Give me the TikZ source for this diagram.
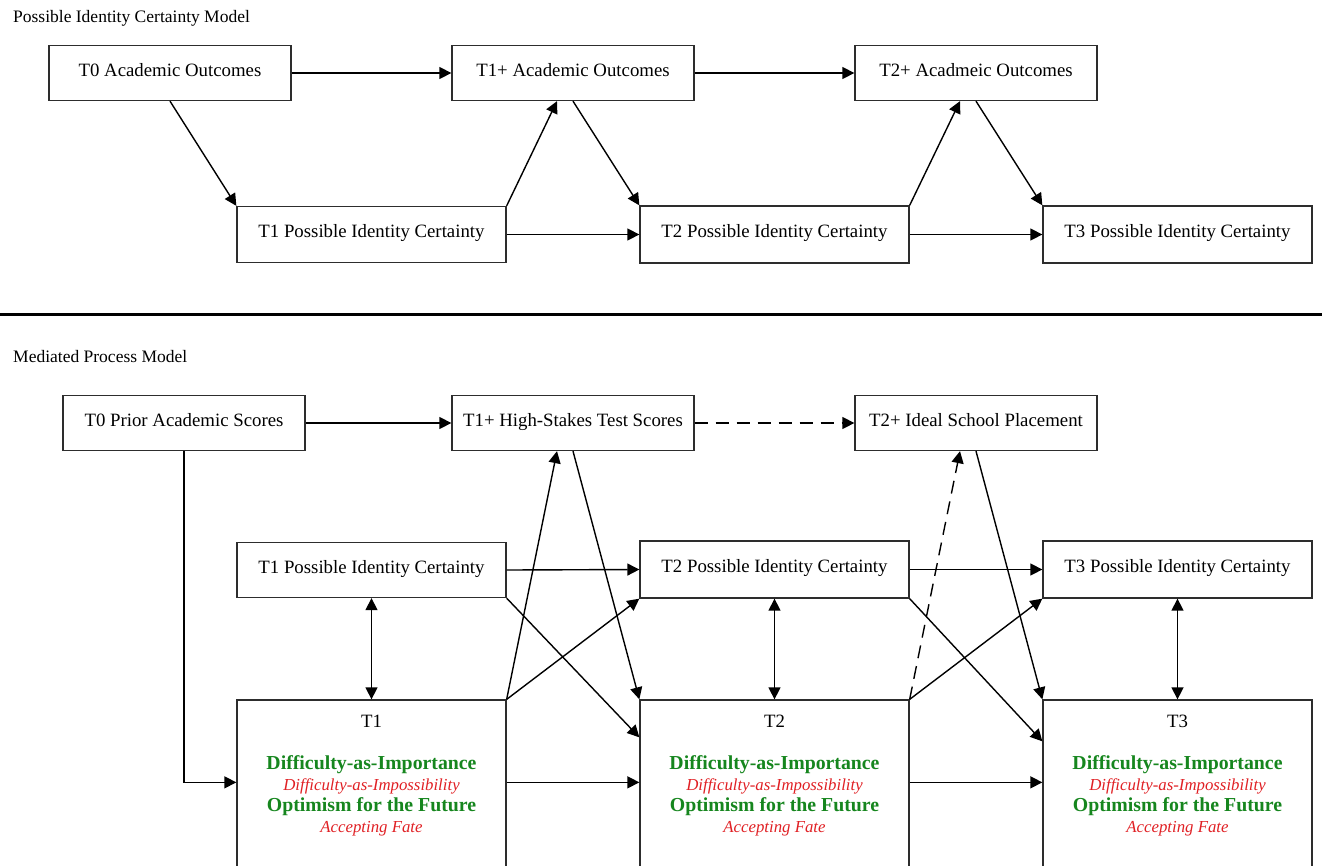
\documentclass[tikz,border=0pt]{standalone}
\usepackage{fontspec}
\setmainfont{Liberation Serif}
\usetikzlibrary{arrows.meta,calc}
\definecolor{boxgray}{RGB}{45,45,45}
\definecolor{dgreen}{RGB}{22,134,30}
\definecolor{dred}{RGB}{224,32,36}
\begin{document}
\begin{tikzpicture}[x=1pt,y=-1pt,
  box/.style={draw=boxgray,line width=1.3pt,inner sep=0pt,minimum height=55pt,
    text height=12pt,text depth=6pt,
    font=\fontsize{18.8}{22}\selectfont},
  wide/.style={box,minimum width=242pt},
  pic/.style={box,minimum width=269pt},
  big/.style={draw=boxgray,line width=1.3pt,inner sep=0pt,minimum width=269pt,minimum height=200pt},
  arr/.style={line width=1.4pt,-{Triangle[length=12pt,width=12pt]}},
  darr/.style={line width=1.4pt,{Triangle[length=12pt,width=12pt]}-{Triangle[length=12pt,width=12pt]}},
  dsh/.style={dash pattern=on 13pt off 8pt},
  ttl/.style={anchor=base west,inner sep=0pt,font=\fontsize{17.5}{20}\selectfont},
  gline/.style={text=dgreen,font=\fontsize{19.8}{22}\selectfont\bfseries},
  rline/.style={text=dred,font=\fontsize{16.8}{20}\selectfont\itshape}
]
\useasboundingbox (0,0) rectangle (1322,865);
\clip (0,0) rectangle (1322,865);

% ---------- top model ----------
\node[ttl] (t1) at (13,22) {Possible Identity Certainty Model};
\node[wide] (a0) at (170,73) {T0 Academic Outcomes};
\node[wide] (a1) at (573,73) {T1+ Academic Outcomes};
\node[wide] (a2) at (976,73) {T2+ Acadmeic Outcomes};
\node[pic,minimum height=56pt] (p1) at (371.5,234.5) {T1 Possible Identity Certainty};
\node[pic,minimum height=57pt] (p2) at (774.5,234.5) {T2 Possible Identity Certainty};
\node[pic,minimum height=57pt] (p3) at (1177.5,234.5) {T3 Possible Identity Certainty};

\draw[arr] (a0.east) -- (a1.west);
\draw[arr] (a1.east) -- (a2.west);
\draw[arr] (a0.south) -- (p1.north west);
\draw[arr] (p1.north east) -- ([xshift=-16pt]a1.south);
\draw[arr] (a1.south) -- (p2.north west);
\draw[arr] (p2.north east) -- ([xshift=-16pt]a2.south);
\draw[arr] (a2.south) -- (p3.north west);
\draw[arr] (p1.east) -- (p2.west);
\draw[arr] (p2.east) -- (p3.west);

% separator
\draw[line width=3pt] (0,314) -- (1322,314);

% ---------- bottom model ----------
\node[ttl] (t2) at (13,362) {Mediated Process Model};
\node[wide] (b0) at (184,423) {T0 Prior Academic Scores};
\node[wide] (b1) at (573,423) {T1+ High-Stakes Test Scores};
\node[wide] (b2) at (976,423) {T2+ Ideal School Placement};
\node[pic] (q1) at (371.5,570) {T1 Possible Identity Certainty};
\node[pic,minimum height=57pt] (q2) at (774.5,569.5) {T2 Possible Identity Certainty};
\node[pic,minimum height=57pt] (q3) at (1177.5,569.5) {T3 Possible Identity Certainty};
\node[big] (m1) at (371.5,800) {};
\node[big] (m2) at (774.5,800) {};
\node[big] (m3) at (1177.5,800) {};

\foreach \m/\t in {m1/T1,m2/T2,m3/T3}{
  \node[font=\fontsize{18.8}{22}\selectfont,inner sep=0pt] (\m h) at ($(\m.north)+(0,22)$) {\t};
  \node[gline,inner sep=0pt] (\m a) at ($(\m.north)+(0,65)$) {Difficulty-as-Importance};
  \node[rline,inner sep=0pt] (\m b) at ($(\m.north)+(0,87)$) {Difficulty-as-Impossibility};
  \node[gline,inner sep=0pt] (\m c) at ($(\m.north)+(0,107)$) {Optimism for the Future};
  \node[rline,inner sep=0pt] (\m d) at ($(\m.north)+(0,129)$) {Accepting Fate};
}

\coordinate (m1in) at ($(m1.north west)+(0,83)$);
\coordinate (m1out) at ($(m1.north east)+(0,83)$);
\coordinate (m2in) at ($(m2.north west)+(0,83)$);
\coordinate (m2out) at ($(m2.north east)+(0,83)$);
\coordinate (m3in) at ($(m3.north west)+(0,83)$);
\coordinate (m2x) at ($(m2.north west)+(0,38)$);
\coordinate (m3x) at ($(m3.north west)+(0,42)$);

\draw[arr] (b0.east) -- (b1.west);
\draw[arr,dsh] (b1.east) -- (b2.west);
\draw[arr] (b0.south) |- (m1in);
\draw[arr] (m1.north east) -- ([xshift=-16pt]b1.south);
\draw[arr] (b1.south) -- (m2.north west);
\draw[arr,dsh] (m2.north east) -- ([xshift=-16pt]b2.south);
\draw[arr] (b2.south) -- (m3.north west);
\draw[arr] (q1.east) -- (q2.west);
\draw[arr] (q2.east) -- (q3.west);
\draw[arr] (q1.south east) -- (m2x);
\draw[arr] (m1.north east) -- (q2.south west);
\draw[arr] (q2.south east) -- (m3x);
\draw[arr] (m2.north east) -- (q3.south west);
\draw[darr] (q1.south) -- (m1.north);
\draw[darr] (q2.south) -- (m2.north);
\draw[darr] (q3.south) -- (m3.north);
\draw[arr] (m1out) -- (m2in);
\draw[arr] (m2out) -- (m3in);
\end{tikzpicture}
\end{document}
